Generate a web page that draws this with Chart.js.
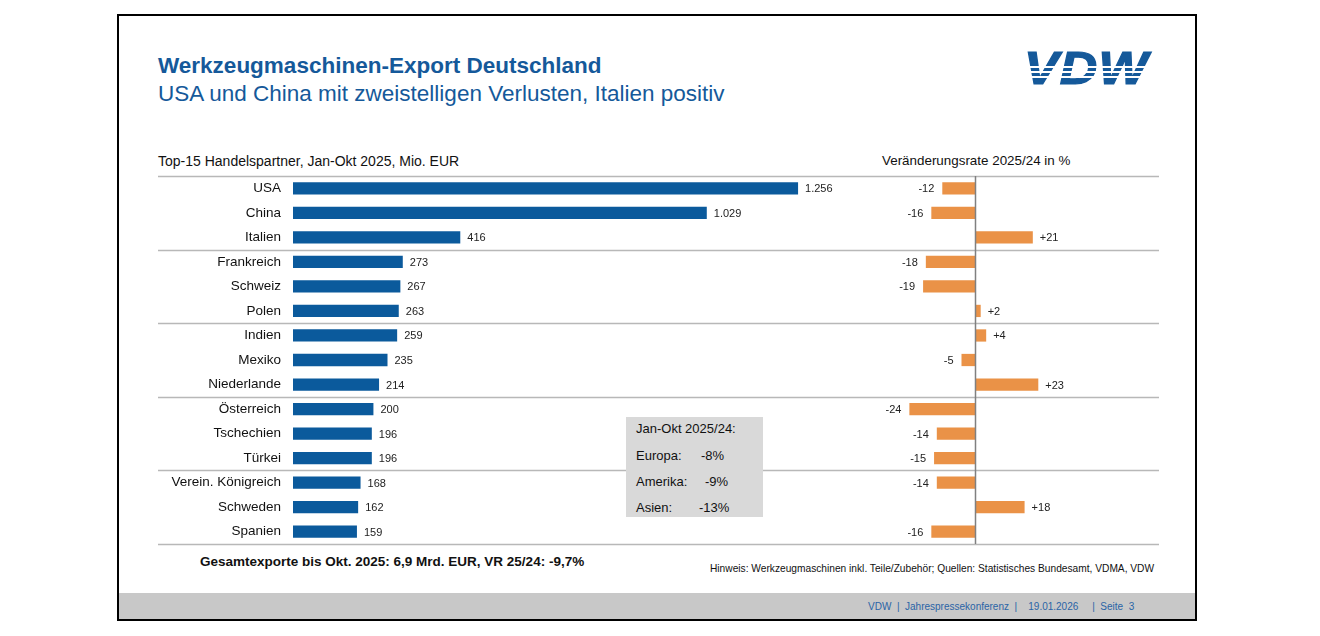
<!DOCTYPE html>
<html>
<head>
<meta charset="utf-8">
<script src="https://cdn.jsdelivr.net/npm/chart.js@4.4.1/dist/chart.umd.min.js"></script>
<style>
  body { margin: 0; width: 1320px; height: 636px; background: #fff; position: relative; overflow: hidden;
         font-family: "Liberation Sans", Arial, sans-serif; color: #111; }
  .abs { position: absolute; white-space: nowrap; line-height: 1; }
  #rahmen { position: absolute; left: 117px; top: 14px; width: 1076px; height: 603px; border: 2px solid #000; }
  #fuss { position: absolute; left: 119px; top: 593px; width: 1076px; height: 26px; background: #c8c8c8; }
  #titel { left: 158px; top: 55px; font-size: 22.5px; font-weight: bold; color: #15599a; }
  #untertitel { left: 158px; top: 83px; font-size: 22.5px; color: #15599a; }
  #logo { left: 1024px; top: 45px; font-size: 46px; font-weight: bold; font-style: italic; color: #15599a;
          -webkit-text-stroke: 1.2px #15599a;
          transform-origin: left top; transform: scaleX(1.13); letter-spacing: 1px; }
  .streifen { position: absolute; left: 1020px; width: 140px; height: 1.6px; background: #fff; }
  .kopf { top: 154px; }
  #box { position: absolute; left: 626px; top: 417px; width: 137px; height: 100px; background: #d9d9d9; }
  .boxtext { font-size: 13px; }
  canvas { position: absolute; }
</style>
</head>
<body>
<div id="rahmen"></div>
<div id="fuss"></div>

<div class="abs" id="titel">Werkzeugmaschinen-Export Deutschland</div>
<div class="abs" id="untertitel">USA und China mit zweistelligen Verlusten, Italien positiv</div>

<div class="abs" id="logo">VDW</div>
<div class="streifen" style="top:66px"></div>
<div class="streifen" style="top:71px"></div>
<div class="streifen" style="top:76px"></div>

<div class="abs kopf" style="left:158px; font-size:14px">Top-15 Handelspartner, Jan-Okt 2025, Mio. EUR</div>
<div class="abs kopf" style="left:882px; font-size:13.4px">Veränderungsrate 2025/24 in %</div>

<canvas id="exporte" width="702" height="380" style="left:158px; top:170px"></canvas>
<canvas id="veraenderung" width="299" height="380" style="left:860px; top:170px"></canvas>

<div id="box"></div>
<div class="abs boxtext" style="left:636px; top:422px">Jan-Okt 2025/24:</div>
<div class="abs boxtext" style="left:636px; top:449px">Europa:</div>
<div class="abs boxtext" style="left:701px; top:449px">-8%</div>
<div class="abs boxtext" style="left:636px; top:475px">Amerika:</div>
<div class="abs boxtext" style="left:705px; top:475px">-9%</div>
<div class="abs boxtext" style="left:636px; top:501px">Asien:</div>
<div class="abs boxtext" style="left:699px; top:501px">-13%</div>

<div class="abs" style="left:200px; top:555px; font-size:13.5px; font-weight:bold">Gesamtexporte bis Okt. 2025: 6,9 Mrd. EUR, VR 25/24: -9,7%</div>
<div class="abs" style="left:710px; top:564px; font-size:10.2px">Hinweis: Werkzeugmaschinen inkl. Teile/Zubehör; Quellen: Statistisches Bundesamt, VDMA, VDW</div>
<div class="abs" style="left:868px; top:602px; font-size:10px; color:#2a64a6; white-space:pre">VDW  |  Jahrespressekonferenz  |    19.01.2026     |  Seite  3</div>

<script>
// Daten aus der Folie
var kategorien = ['USA', 'China', 'Italien', 'Frankreich', 'Schweiz', 'Polen', 'Indien', 'Mexiko',
  'Niederlande', 'Österreich', 'Tschechien', 'Türkei', 'Verein. Königreich', 'Schweden', 'Spanien'];
var exporte = [1256, 1029, 416, 273, 267, 263, 259, 235, 214, 200, 196, 196, 168, 162, 159];
var veraenderung = [-12, -16, 21, -18, -19, 2, 4, -5, 23, -24, -14, -15, -14, 18, -16];

var schrift = '"Liberation Sans", Arial, sans-serif';

function tausender(v) {
  return String(v).replace(/\B(?=(\d{3})+(?!\d))/g, '.');
}
function mitVorzeichen(v) {
  return v > 0 ? '+' + v : String(v);
}

// graue Linien nach jeweils drei Laendern
var trennlinien = {
  id: 'trennlinien',
  beforeDatasetsDraw: function(chart) {
    var y = chart.scales.y;
    var schritt = y.getPixelForValue(1) - y.getPixelForValue(0);
    var c = chart.ctx;
    c.save();
    c.strokeStyle = '#b8b8b8';
    c.lineWidth = 1.5;
    for (var i = 0; i <= kategorien.length; i += 3) {
      var py = Math.round(y.getPixelForValue(i) - schritt / 2) + 0.5;
      c.beginPath();
      c.moveTo(0, py);
      c.lineTo(chart.width, py);
      c.stroke();
    }
    c.restore();
  }
};

// Zahlen neben den Balken
function wertLabels(format) {
  return {
    id: 'wertLabels',
    afterDatasetsDraw: function(chart) {
      var c = chart.ctx;
      var daten = chart.data.datasets[0].data;
      c.save();
      c.font = '11px ' + schrift;
      c.fillStyle = '#222';
      c.textBaseline = 'middle';
      chart.getDatasetMeta(0).data.forEach(function(bar, i) {
        var v = daten[i];
        if (v < 0) {
          c.textAlign = 'right';
          c.fillText(format(v), bar.x - 8, bar.y + 1);
        } else {
          c.textAlign = 'left';
          c.fillText(format(v), bar.x + 7, bar.y + 1);
        }
      });
      c.restore();
    }
  };
}

var nullLinie = {
  id: 'nullLinie',
  afterDatasetsDraw: function(chart) {
    var x = Math.round(chart.scales.x.getPixelForValue(0)) + 0.5;
    var y = chart.scales.y;
    var schritt = y.getPixelForValue(1) - y.getPixelForValue(0);
    var c = chart.ctx;
    c.save();
    c.strokeStyle = '#808080';
    c.lineWidth = 1.5;
    c.beginPath();
    c.moveTo(x, y.getPixelForValue(0) - schritt / 2);
    c.lineTo(x, y.getPixelForValue(kategorien.length - 1) + schritt / 2);
    c.stroke();
    c.restore();
  }
};

Chart.defaults.font.family = schrift;

new Chart('exporte', {
  type: 'bar',
  data: {
    labels: kategorien,
    datasets: [{
      data: exporte,
      backgroundColor: '#0b5a9c',
      barPercentage: 0.5,
      categoryPercentage: 1
    }]
  },
  options: {
    indexAxis: 'y',
    responsive: false,
    animation: false,
    layout: { padding: { top: 6, bottom: 6, left: 0, right: 0 } },
    plugins: { legend: { display: false }, tooltip: { enabled: false } },
    scales: {
      x: { display: false, min: 0, max: 1410 },
      y: {
        grid: { display: false, drawTicks: false },
        border: { display: false },
        ticks: { color: '#111', font: { size: 13.5 }, padding: 12 },
        afterFit: function(scale) {
          scale.width = 135;
          scale.paddingTop = 0;
          scale.paddingBottom = 0;
        }
      }
    }
  },
  plugins: [trennlinien, wertLabels(tausender)]
});

new Chart('veraenderung', {
  type: 'bar',
  data: {
    labels: kategorien,
    datasets: [{
      data: veraenderung,
      backgroundColor: '#ea9247',
      barPercentage: 0.5,
      categoryPercentage: 1
    }]
  },
  options: {
    indexAxis: 'y',
    responsive: false,
    animation: false,
    layout: { padding: { top: 6, bottom: 6, left: 0, right: 0 } },
    plugins: { legend: { display: false }, tooltip: { enabled: false } },
    scales: {
      x: { display: false, min: -42, max: 67 },
      y: { display: false }
    }
  },
  plugins: [trennlinien, wertLabels(mitVorzeichen), nullLinie]
});
</script>
</body>
</html>
